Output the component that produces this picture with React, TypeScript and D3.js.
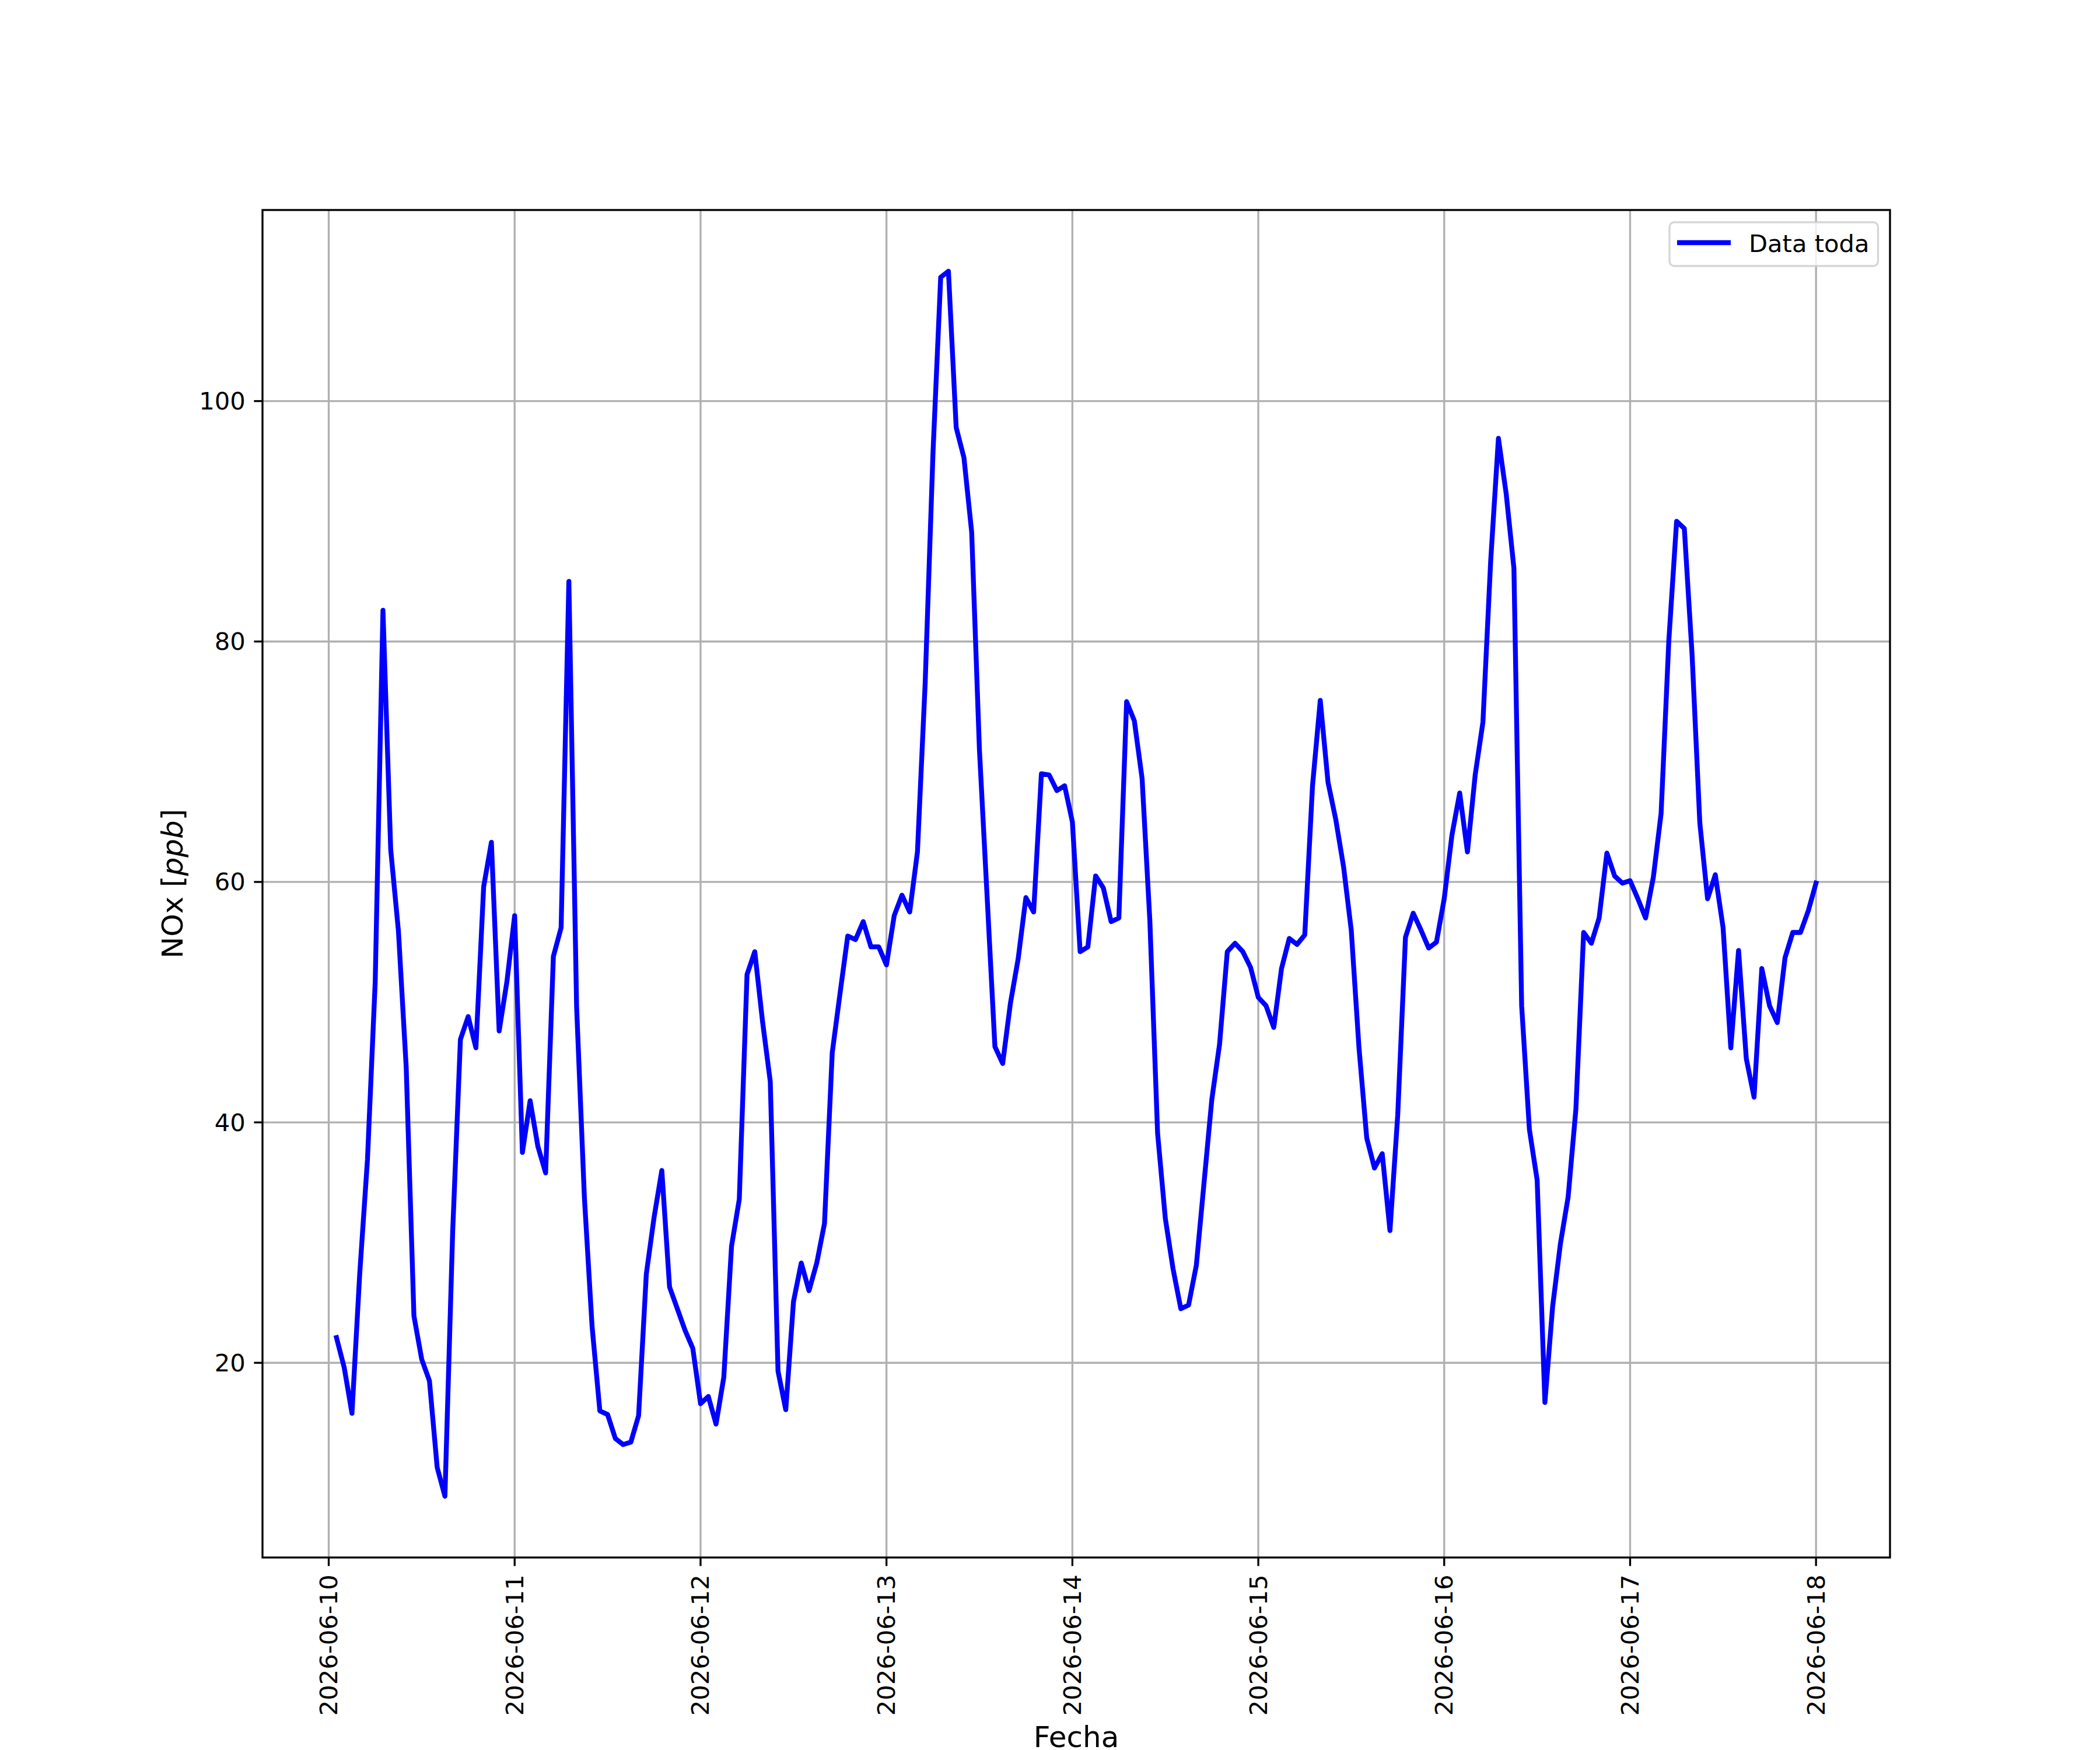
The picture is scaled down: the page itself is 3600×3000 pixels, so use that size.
import React from "react";
import * as d3 from "d3";

// Hourly NOx values [ppb], starting 2026-06-10 01:00 (UTC), one value per hour
const startHour = Date.UTC(2026, 5, 10, 1, 0, 0);
const noxValues: number[] = [
  22.1, 19.6, 15.8, 27.4, 36.9, 51.7, 82.6, 62.7, 55.9, 44.6, 23.9, 20.3,
  18.5, 11.3, 8.9, 30.9, 46.9, 48.8, 46.2, 59.6, 63.3, 47.6, 51.7, 57.2,
  37.5, 41.8, 38.0, 35.8, 53.8, 56.2, 85.0, 49.6, 33.8, 23.0, 16.0, 15.7,
  13.7, 13.2, 13.4, 15.6, 27.4, 32.1, 36.0, 26.3, 24.5, 22.7, 21.2, 16.6,
  17.2, 14.9, 18.8, 29.7, 33.6, 52.3, 54.2, 48.4, 43.4, 19.3, 16.1, 25.1,
  28.3, 26.0, 28.3, 31.6, 45.8, 50.7, 55.5, 55.2, 56.7, 54.6, 54.6, 53.1,
  57.2, 58.9, 57.5, 62.5, 76.6, 95.6, 110.3, 110.8, 97.8, 95.3, 89.1, 71.0,
  58.7, 46.3, 44.9, 49.9, 53.6, 58.7, 57.5, 69.0, 68.9, 67.6, 68.0, 65.0,
  54.2, 54.6, 60.5, 59.5, 56.7, 57.0, 75.0, 73.4, 68.6, 56.8, 39.1, 32.0,
  27.8, 24.5, 24.8, 28.1, 35.0, 41.9, 46.5, 54.2, 54.9, 54.2, 52.9, 50.4,
  49.7, 47.9, 52.8, 55.3, 54.8, 55.6, 68.0, 75.1, 68.3, 65.2, 61.3, 56.0,
  46.2, 38.7, 36.2, 37.4, 31.0, 40.6, 55.4, 57.4, 56.0, 54.5, 55.0, 58.6,
  63.9, 67.4, 62.5, 68.9, 73.3, 86.7, 96.9, 92.3, 86.1, 49.7, 39.4, 35.2,
  16.7, 24.7, 29.9, 33.8, 41.1, 55.8, 54.9, 57.0, 62.4, 60.5, 59.9, 60.1,
  58.6, 57.0, 60.4, 65.7, 80.1, 90.0, 89.4, 78.9, 64.9, 58.6, 60.6, 56.2,
  46.2, 54.3, 45.3, 42.1, 52.8, 49.7, 48.3, 53.7, 55.8, 55.8, 57.6, 59.9,
];

const xTickDates: Date[] = d3.range(0, 9).map((d) => new Date(Date.UTC(2026, 5, 10 + d)));
const yTickValues: number[] = [20, 40, 60, 80, 100];
const seriesLabel = "Data toda";
const xLabel = "Fecha";

const W = 3600;
const H = 3000;
const left = 450;
const right = 3240;
const top = 360;
const bottom = 2670;
const FS = 41.67;
const FS_LABEL = 50;
const FONT = "'DejaVu Sans', Verdana, sans-serif";
const LW_AX = 3.33;
const LW_LINE = 8.33;
const TICK = 14.58;
const PAD = 14.58;

export default function App() {
  const data = noxValues.map((v, i) => ({ t: new Date(startHour + i * 3600 * 1000), v }));
  const t0 = +data[0].t;
  const t1 = +data[data.length - 1].t;
  const tspan = t1 - t0;
  const x = d3
    .scaleUtc()
    .domain([new Date(t0 - 0.05 * tspan), new Date(t1 + 0.05 * tspan)])
    .range([left, right]);
  const vmin = d3.min(noxValues)!;
  const vmax = d3.max(noxValues)!;
  const vr = vmax - vmin;
  const y = d3
    .scaleLinear()
    .domain([vmin - 0.05 * vr, vmax + 0.05 * vr])
    .range([bottom, top]);

  const line = d3
    .line<{ t: Date; v: number }>()
    .x((d) => x(d.t))
    .y((d) => y(d.v));
  const fmt = d3.utcFormat("%Y-%m-%d");

  return (
    <svg
      width={W}
      height={H}
      viewBox={`0 0 ${W} ${H}`}
      style={{ position: "absolute", left: 0, top: 0, background: "#fff" }}
      fontFamily={FONT}
    >
      <rect x={0} y={0} width={W} height={H} fill="#fff" />
      <defs>
        <clipPath id="plotclip">
          <rect x={left} y={top} width={right - left} height={bottom - top} />
        </clipPath>
      </defs>
      {/* grid */}
      <g stroke="#b0b0b0" strokeWidth={LW_AX}>
        {xTickDates.map((d, i) => (
          <line key={"gx" + i} x1={x(d)} x2={x(d)} y1={top} y2={bottom} />
        ))}
        {yTickValues.map((v, i) => (
          <line key={"gy" + i} x1={left} x2={right} y1={y(v)} y2={y(v)} />
        ))}
      </g>
      {/* data line */}
      <path
        d={line(data) || ""}
        fill="none"
        stroke="#0000ff"
        strokeWidth={LW_LINE}
        strokeLinejoin="round"
        strokeLinecap="square"
        clipPath="url(#plotclip)"
      />
      {/* spines */}
      <rect
        x={left}
        y={top}
        width={right - left}
        height={bottom - top}
        fill="none"
        stroke="#000"
        strokeWidth={LW_AX}
      />
      {/* x ticks */}
      <g>
        {xTickDates.map((d, i) => (
          <g key={"xt" + i}>
            <line x1={x(d)} x2={x(d)} y1={bottom} y2={bottom + TICK} stroke="#000" strokeWidth={LW_AX} />
            <text
              transform={`translate(${x(d)},${bottom + TICK + PAD}) rotate(-90)`}
              textAnchor="end"
              dominantBaseline="central"
              fontSize={FS}
              fill="#000"
            >
              {fmt(d)}
            </text>
          </g>
        ))}
      </g>
      {/* y ticks */}
      <g>
        {yTickValues.map((v, i) => (
          <g key={"yt" + i}>
            <line x1={left - TICK} x2={left} y1={y(v)} y2={y(v)} stroke="#000" strokeWidth={LW_AX} />
            <text
              x={left - TICK - PAD}
              y={y(v)}
              textAnchor="end"
              dominantBaseline="central"
              fontSize={FS}
              fill="#000"
            >
              {v}
            </text>
          </g>
        ))}
      </g>
      {/* axis labels */}
      <text x={(left + right) / 2} y={2995} textAnchor="middle" fontSize={FS_LABEL} fill="#000">
        {xLabel}
      </text>
      <text
        transform={`translate(313,${(top + bottom) / 2}) rotate(-90)`}
        textAnchor="middle"
        fontSize={FS_LABEL}
        fill="#000"
      >
        NOx [<tspan fontStyle="italic">ppb</tspan>]
      </text>
      {/* legend */}
      <g>
        <rect
          x={2862}
          y={381}
          width={3219.5 - 2862}
          height={456 - 381}
          rx={8}
          ry={8}
          fill="#fff"
          fillOpacity={0.8}
          stroke="#cccccc"
          strokeOpacity={0.8}
          strokeWidth={LW_AX}
        />
        <line x1={2875} x2={2967} y1={416} y2={416} stroke="#0000ff" strokeWidth={LW_LINE} strokeLinecap="butt" />
        <text x={2998} y={432} fontSize={FS} fill="#000">
          {seriesLabel}
        </text>
      </g>
    </svg>
  );
}
